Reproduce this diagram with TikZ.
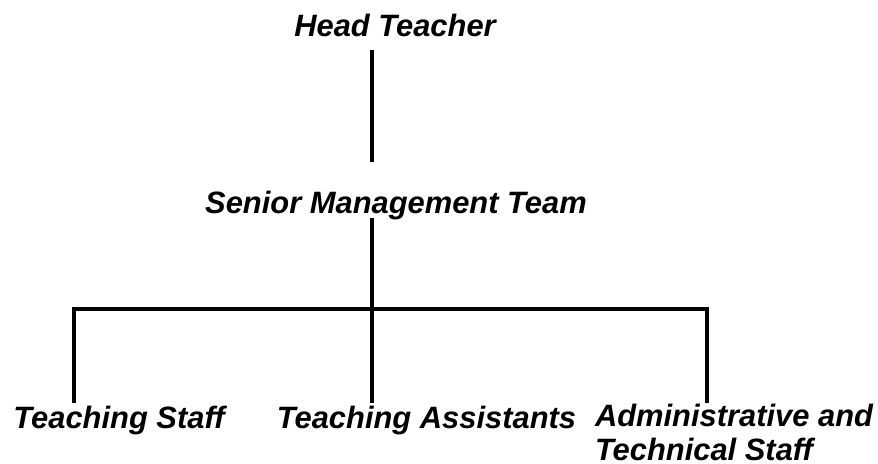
\documentclass[tikz,border=0pt]{standalone}
\usepackage{fontspec}
\setmainfont{Liberation Sans}
\usepackage{tikz}

\newcommand{\orgfont}{\fontsize{31}{34}\selectfont\bfseries\itshape}

\begin{document}
\begin{tikzpicture}[x=1bp, y=-1bp,
  every node/.style = {inner sep=0pt, outer sep=0pt,
    font=\orgfont, text=black},
  link/.style = {draw=black, line width=4bp}]
  \useasboundingbox (0,0) rectangle (878,464);
  % titles
  \node[anchor=base] (head) at (395,37) {Head Teacher};
  \node[anchor=base] (smt) at (396,214) {Senior Management Team};
  \node[anchor=base] (staff) at (119,428) {Teaching Staff};
  \node[anchor=base] (assist) at (426.5,428) {Teaching Assistants};
  \node[anchor=north west, align=left] (admin) at (595,404)
    {Administrative and\\Technical Staff};
  % line ends
  \coordinate (head-foot) at (372,50);
  \coordinate (smt-top) at (372,162);
  \coordinate (smt-foot) at (372,218);
  \coordinate (bar) at (372,309.5);
  \coordinate (staff-top) at (74,403);
  \coordinate (assist-top) at (372,403);
  \coordinate (admin-top) at (707,403);
  \draw[link] (head-foot) -- (smt-top);
  \draw[link] (smt-foot) -- (assist-top);
  \draw[link] (staff-top) |- (bar) -| (admin-top);
\end{tikzpicture}
\end{document}
